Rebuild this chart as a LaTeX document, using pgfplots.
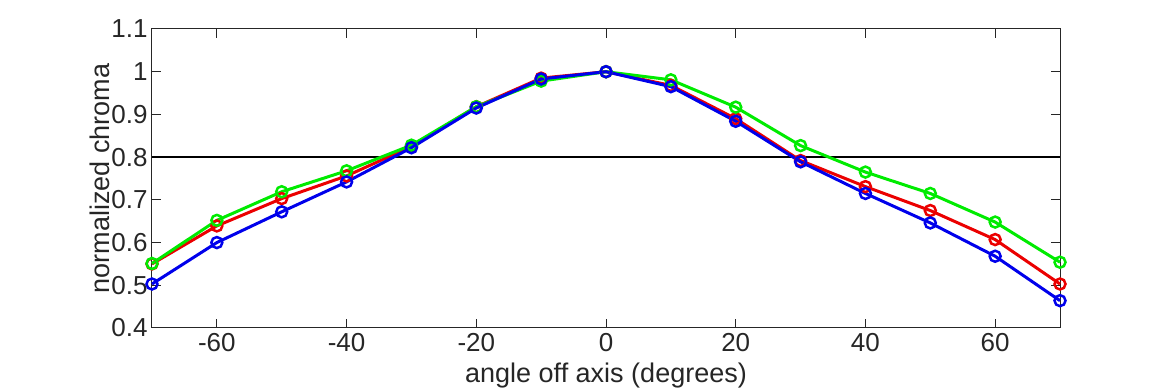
\documentclass[border=0pt]{standalone}
\usepackage{fontspec}
\setmainfont{Liberation Sans}
\usepackage{pgfplots}
\pgfplotsset{compat=1.18}
\definecolor{axgray}{RGB}{38,38,38}
\definecolor{cred}{RGB}{235,0,0}
\definecolor{cgreen}{RGB}{0,235,0}
\definecolor{cblue}{RGB}{0,0,235}
\begin{document}
\begin{tikzpicture}
\useasboundingbox (-152pt,-62pt) rectangle (1018pt,328pt);
\begin{axis}[
  scale only axis, width=908pt, height=299pt,
  xmin=-70, xmax=70, ymin=0.4, ymax=1.1,
  xtick={-60,-40,-20,0,20,40,60},
  ytick={0.4,0.5,0.6,0.7,0.8,0.9,1,1.1},
  /pgf/number format/assume math mode=true,
  /pgf/number format/fixed,
  tick align=inside, major tick length=9pt,
  axis line style={axgray, line width=1pt},
  tick style={axgray, line width=1pt},
  tick label style={font=\fontsize{26}{28}\selectfont, text=axgray},
  xticklabel style={yshift=-2pt},
  yticklabel style={xshift=-1pt},
  xlabel={angle off axis (degrees)}, ylabel={normalized chroma},
  label style={font=\fontsize{27}{30}\selectfont, text=axgray},
  xlabel style={at={(axis description cs:0.5,-0.16)}, anchor=center},
  ylabel style={at={(axis description cs:-0.057,0.5)}, anchor=center, rotate=0},
  clip=false,
]
\addplot[black, line width=1.3pt, forget plot] coordinates {(-70,0.8) (70,0.8)};
\addplot[cred, line width=3pt, mark=o, mark size=5.5pt, mark options={line width=2.5pt}] coordinates {
(-70,0.550) (-60,0.639) (-50,0.703) (-40,0.756) (-30,0.825) (-20,0.918) (-10,0.985) (0,1.0) (10,0.968) (20,0.890) (30,0.792) (40,0.731) (50,0.675) (60,0.607) (70,0.503)};
\addplot[cgreen, line width=3pt, mark=o, mark size=5.5pt, mark options={line width=2.5pt}] coordinates {
(-70,0.551) (-60,0.652) (-50,0.719) (-40,0.768) (-30,0.828) (-20,0.918) (-10,0.978) (0,1.0) (10,0.981) (20,0.917) (30,0.827) (40,0.765) (50,0.715) (60,0.648) (70,0.554)};
\addplot[cblue, line width=3pt, mark=o, mark size=5.5pt, mark options={line width=2.5pt}] coordinates {
(-70,0.503) (-60,0.600) (-50,0.672) (-40,0.742) (-30,0.822) (-20,0.915) (-10,0.983) (0,1.0) (10,0.965) (20,0.884) (30,0.789) (40,0.715) (50,0.646) (60,0.568) (70,0.464)};
\end{axis}
\end{tikzpicture}
\end{document}
